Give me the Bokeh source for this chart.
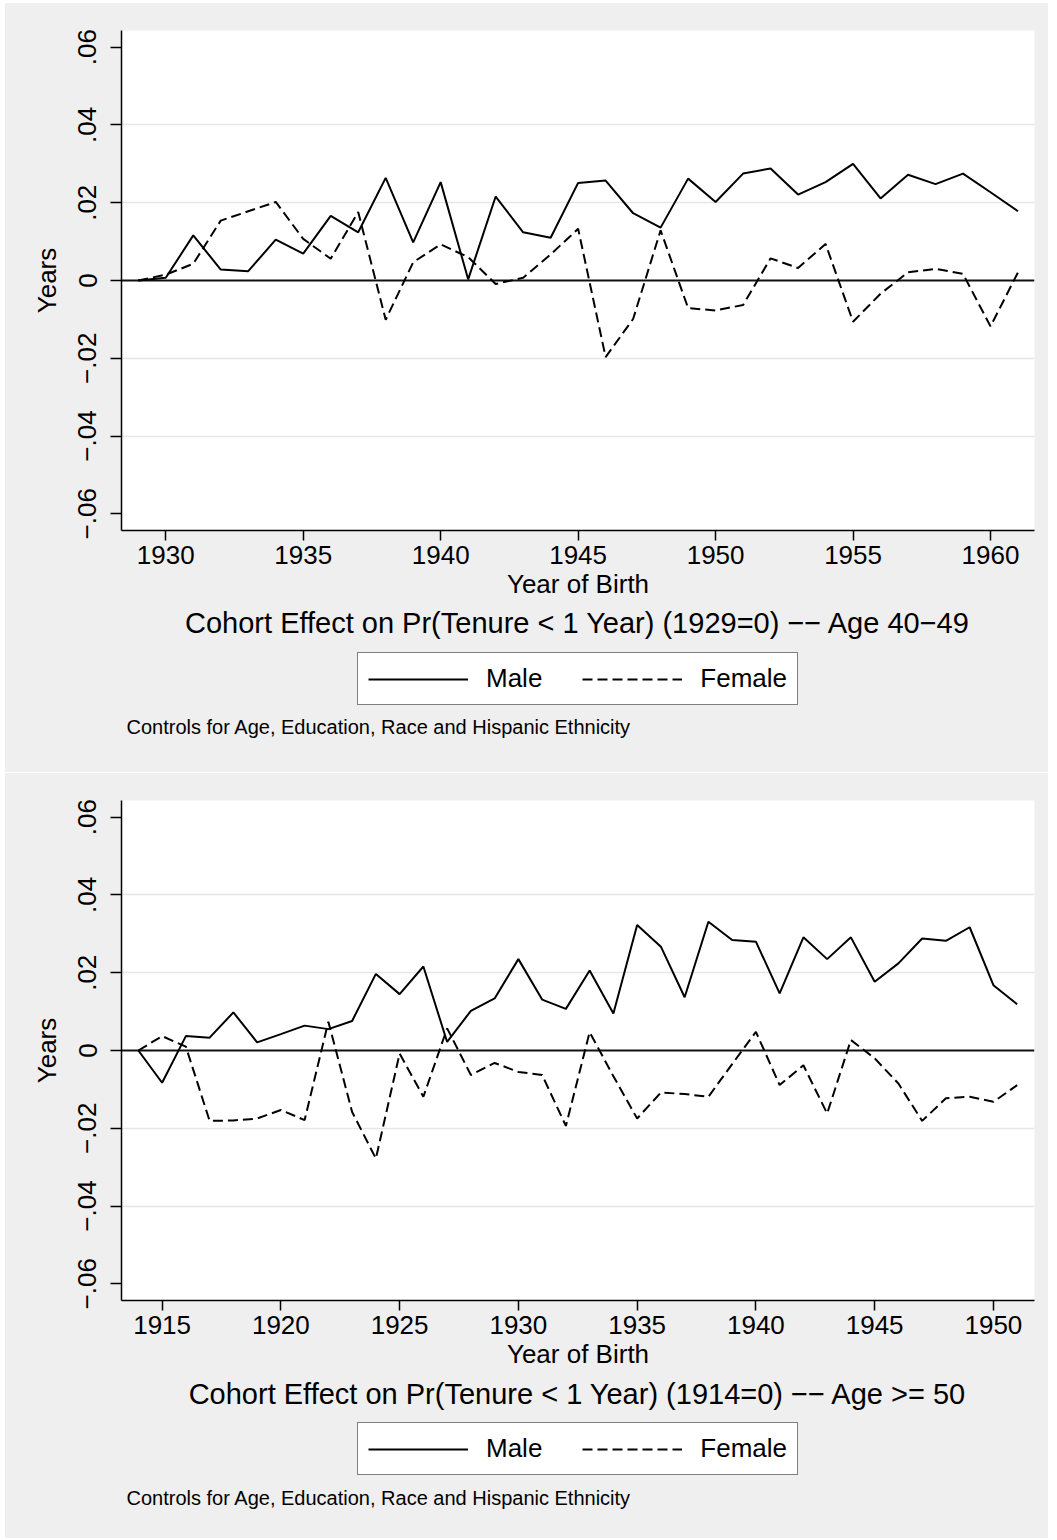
from bokeh.plotting import figure
from bokeh.models import Range1d, FixedTicker, Span, Label, Legend, LegendItem
from bokeh.layouts import column
from bokeh.embed import file_html
from bokeh.resources import INLINE

# ---------------- data ----------------
years_a = list(range(1929, 1962))
male_a = [0.0, 0.0007, 0.0116, 0.0028, 0.0024, 0.0105, 0.0069, 0.0166, 0.0124, 0.0264,
          0.0098, 0.0253, 0.0003, 0.0216, 0.0124, 0.0110, 0.0251, 0.0257, 0.0173, 0.0136,
          0.0262, 0.0202, 0.0275, 0.0288, 0.0221, 0.0253, 0.0300, 0.0211, 0.0272, 0.0248,
          0.0275, 0.0227, 0.0178]
female_a = [0.0, 0.0015, 0.0043, 0.0154, 0.0178, 0.0202, 0.0107, 0.0056, 0.0176, -0.0101,
            0.0047, 0.0093, 0.0060, -0.0009, 0.0007, 0.0067, 0.0133, -0.0197, -0.0099, 0.0129,
            -0.0071, -0.0077, -0.0063, 0.0057, 0.0032, 0.0094, -0.0106, -0.0034, 0.0021, 0.0030,
            0.0017, -0.0118, 0.0021]

years_b = list(range(1914, 1952))
male_b = [0.0, -0.0083, 0.0037, 0.0033, 0.0098, 0.0021, 0.0042, 0.0064, 0.0055, 0.0076,
          0.0197, 0.0145, 0.0216, 0.0022, 0.0102, 0.0134, 0.0235, 0.0131, 0.0107, 0.0206,
          0.0095, 0.0323, 0.0267, 0.0137, 0.0331, 0.0284, 0.0280, 0.0147, 0.0291, 0.0235,
          0.0291, 0.0177, 0.0224, 0.0288, 0.0282, 0.0317, 0.0168, 0.0119]
female_b = [0.0, 0.0037, 0.0010, -0.0181, -0.0180, -0.0175, -0.0153, -0.0179, 0.0074, -0.0158,
            -0.0278, -0.0008, -0.0119, 0.0057, -0.0063, -0.0032, -0.0055, -0.0063, -0.0194, 0.0047,
            -0.0066, -0.0175, -0.0108, -0.0112, -0.0119, -0.0035, 0.0048, -0.0089, -0.0038, -0.0162,
            0.0027, -0.0020, -0.0085, -0.0181, -0.0123, -0.0119, -0.0132, -0.0089]

y_ticks = [-0.06, -0.04, -0.02, 0.0, 0.02, 0.04, 0.06]
y_tick_labels = ["\u2212.06", "\u2212.04", "\u2212.02", "0", ".02", ".04", ".06"]
grid_ticks = [-0.04, -0.02, 0.02, 0.04]
x_ticks_a = [1930, 1935, 1940, 1945, 1950, 1955, 1960]
x_ticks_b = [1915, 1920, 1925, 1930, 1935, 1940, 1945, 1950]

title_a = "Cohort Effect on Pr(Tenure < 1 Year) (1929=0) \u2212\u2212 Age 40\u221249"
title_b = "Cohort Effect on Pr(Tenure < 1 Year) (1914=0) \u2212\u2212 Age >= 50"
note_text = "Controls for Age, Education, Race and Hispanic Ethnicity"
series_labels = ["Male", "Female"]

FONT = "Liberation Sans"
BG = "#efefef"
DASH = "10 5"
NAN = float("nan")


def make_plot(years, male, female, xr, xticks):
    p = figure(width=1043, height=603, output_backend="svg", toolbar_location=None,
               x_range=Range1d(*xr), y_range=Range1d(-0.0643, 0.0643),
               min_border_left=116, min_border_right=14, min_border_top=27,
               min_border_bottom=76)
    p.border_fill_color = BG
    p.background_fill_color = "white"
    p.outline_line_color = None

    p.xaxis.ticker = FixedTicker(ticks=xticks)
    p.yaxis.ticker = FixedTicker(ticks=y_ticks)
    p.yaxis.major_label_overrides = {t: l for t, l in zip(y_ticks, y_tick_labels)}
    p.yaxis.major_label_orientation = "vertical"
    p.xaxis.axis_label = "Year of Birth"
    p.yaxis.axis_label = "Years"
    for ax in (p.xaxis, p.yaxis):
        ax.axis_line_color = "black"
        ax.axis_line_width = 1.5
        ax.major_tick_line_color = "black"
        ax.major_tick_line_width = 1.5
        ax.major_tick_in = 0
        ax.minor_tick_line_color = None
        ax.major_label_text_font = FONT
        ax.major_label_text_font_size = "26px"
        ax.major_label_text_color = "black"
        ax.axis_label_text_font = FONT
        ax.axis_label_text_font_size = "26px"
        ax.axis_label_text_font_style = "normal"
        ax.axis_label_text_color = "black"
    p.xaxis.major_tick_out = 10
    p.yaxis.major_tick_out = 11
    p.xaxis.major_label_standoff = 5
    p.xaxis.axis_label_standoff = 2
    p.yaxis.major_label_standoff = 14
    p.yaxis.axis_label_standoff = 14

    p.xgrid.grid_line_color = None
    p.ygrid.ticker = FixedTicker(ticks=grid_ticks)
    p.ygrid.grid_line_color = "#e6e6e6"
    p.ygrid.grid_line_width = 1.5

    p.add_layout(Span(location=0, dimension="width", line_color="#111111", line_width=2,
                      level="underlay"))

    p.line(years, male, line_color="black", line_width=2)
    p.line(years, female, line_color="black", line_width=2, line_dash=DASH)
    return p


def make_footer(title, height, y_title, y_legend, y_note):
    # frame spans the same horizontal extent as the plot frame above
    f = figure(width=1043, height=height, output_backend="svg", toolbar_location=None,
               x_range=Range1d(0, 1), y_range=Range1d(0, 1),
               x_axis_type=None, y_axis_type=None,
               min_border_left=116, min_border_right=14, min_border_top=0, min_border_bottom=0)
    f.border_fill_color = BG
    f.background_fill_color = BG
    f.outline_line_color = None
    f.xgrid.visible = False
    f.ygrid.visible = False

    # legend key samples (same style as the plotted series, no visible data)
    r_m = f.line([NAN], [NAN], line_color="black", line_width=2)
    r_f = f.line([NAN], [NAN], line_color="black", line_width=2, line_dash=DASH)
    legend = Legend(items=[LegendItem(label=series_labels[0], renderers=[r_m]),
                           LegendItem(label=series_labels[1], renderers=[r_f])],
                    orientation="horizontal", location=(236, y_legend), margin=0,
                    glyph_width=100, glyph_height=28, label_standoff=18, spacing=40,
                    padding=10, border_line_color="black", border_line_width=1,
                    background_fill_color="white", background_fill_alpha=1.0,
                    label_text_font=FONT, label_text_font_size="26px",
                    label_text_color="black")
    f.add_layout(legend, "center")

    f.add_layout(Label(x=456.5, y=y_title, x_units="screen", y_units="screen", text=title,
                       text_align="center", text_baseline="alphabetic",
                       text_font=FONT, text_font_size="29px", text_color="black"))
    f.add_layout(Label(x=5, y=y_note, x_units="screen", y_units="screen", text=note_text,
                       text_align="left", text_baseline="alphabetic",
                       text_font=FONT, text_font_size="20px", text_color="black"))
    return f


p1 = make_plot(years_a, male_a, female_a, (1928.39, 1961.6), x_ticks_a)
f1 = make_footer(title_a, 166, 149.3, 67, 45.7)
p2 = make_plot(years_b, male_b, female_b, (1913.29, 1951.73), x_ticks_b)
f2 = make_footer(title_b, 162, 144.7, 63, 40.7)

top = column(p1, f1, spacing=0, styles={"background-color": BG})
bottom = column(p2, f2, spacing=0, styles={"background-color": BG})
layout = column(top, bottom, spacing=1, margin=(3, 0, 0, 5))
open("out.html", "w").write(file_html(layout, INLINE))
